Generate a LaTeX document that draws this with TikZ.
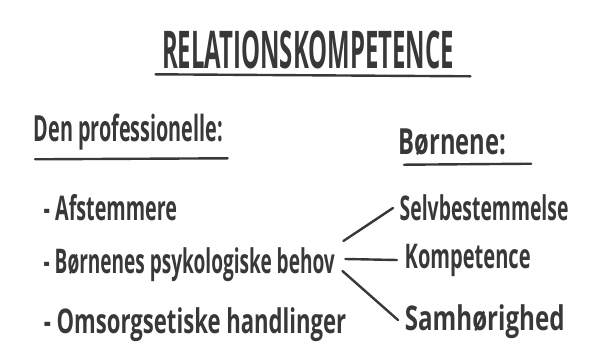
\documentclass[tikz,border=0pt]{standalone}
\usetikzlibrary{positioning}
\usepackage{fontspec}
\setmainfont{Open Sans}

\definecolor{pen}{HTML}{383838}

\begin{document}
\begin{tikzpicture}[x=1pt, y=-1pt, every node/.style={text=pen, inner sep=1pt},
  hand/.style={anchor=west, font=\fontsize{34}{38}\selectfont\bfseries},
  head/.style={anchor=west, font=\fontsize{36}{40}\selectfont\bfseries},
  marker/.style={pen, line width=2.4pt, line cap=round}]
\useasboundingbox (0,0) rectangle (613,361);

% Heading
\node[xscale=0.46, font=\fontsize{52}{56}\selectfont\bfseries] (title) at (308,50) {RELATIONSKOMPETENCE};
\draw[marker] ([xshift=-6pt, yshift=-4pt]title.south west) -- ([xshift=16pt, yshift=-6pt]title.south east);

% Column heads
\node[head, xscale=0.55] (prof) at (33,132) {Den professionelle:};
\draw[marker] ([xshift=2pt, yshift=-8pt]prof.south west) -- ([xshift=4pt, yshift=-7pt]prof.south east);
\node[head, xscale=0.66] (boern) at (398,142) {Børnene:};
\draw[marker] ([xshift=6pt, yshift=-8pt]boern.south west) -- ([xshift=24pt, yshift=-7pt]boern.south east);

% The professional
\node[hand, xscale=0.58] (afst) at (43,208) {- Afstemmere};
\node[hand, xscale=0.56] (behov) at (43,265) {- Børnenes psykologiske behov};
\node[hand, xscale=0.65] (omsorg) at (43,325) {- Omsorgsetiske handlinger};

% The children
\node[hand, xscale=0.57] (selv) at (399,208) {Selvbestemmelse};
\node[hand, xscale=0.59] (komp) at (404,260) {Kompetence};
\node[hand, xscale=0.71] (sam) at (404,322) {Samhørighed};

% Links
\draw[marker] ([xshift=8pt, yshift=24pt]behov.east) -- ([xshift=-6pt]selv.west);
\draw[marker] ([xshift=10pt, yshift=6pt]behov.east) -- ([xshift=-7pt]komp.west);
\draw[marker] ([xshift=7pt, yshift=-6pt]behov.east) -- ([xshift=-6pt, yshift=2pt]sam.west);
\end{tikzpicture}
\end{document}
